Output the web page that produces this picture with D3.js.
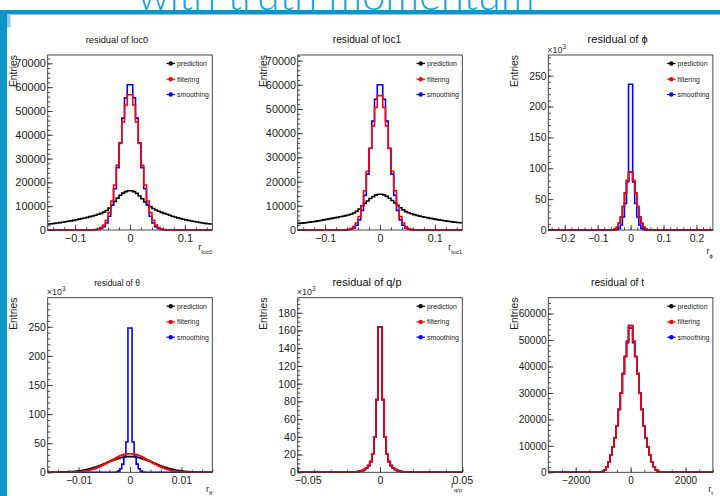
<!DOCTYPE html>
<html>
<head>
<meta charset="utf-8">
<script src="https://cdn.jsdelivr.net/npm/d3@7"></script>
<style>
  html, body { margin: 0; padding: 0; background: #fff; }
  svg { display: block; }
  text { font-family: "Liberation Sans", Arial, Helvetica, sans-serif; }
</style>
</head>
<body>
<svg id="chart" width="720" height="496"></svg>
<script>
// ---------------- histogram contents (entries per bin) ----------------
const seriesNames = ["prediction", "filtering", "smoothing"];

// residual of loc0 : 60 bins on [-0.15, 0.15]
const loc0Range = [-0.15, 0.15];
const loc0Prediction = [
  2500, 2650, 2800, 2950, 3100, 3250, 3450, 3650, 3850, 4050,
  4300, 4550, 4800, 5050, 5300, 5600, 5900, 6200, 6600, 7000,
  7500, 8200, 9200, 10400, 12000, 13400, 14600, 15500, 16100, 16500,
  16500, 16100, 15400, 14300, 13100, 11800, 10700, 9800, 9000, 8400,
  7900, 7400, 7000, 6600, 6200, 5800, 5450, 5100, 4800, 4500,
  4250, 4000, 3750, 3550, 3350, 3150, 2950, 2800, 2650, 2500];
const loc0Filtering = [
  0, 0, 0, 0, 0, 0, 0, 0, 0, 0,
  0, 0, 0, 0, 0, 0, 80, 200, 450, 1000,
  2100, 4100, 7300, 12200, 18900, 27200, 36400, 45400, 52500, 56800,
  56800, 52500, 45400, 36400, 27200, 18900, 12200, 7300, 4100, 2100,
  1000, 450, 200, 80, 0, 0, 0, 0, 0, 0,
  0, 0, 0, 0, 0, 0, 0, 0, 0, 0];
const loc0Smoothing = [
  0, 0, 0, 0, 0, 0, 0, 0, 0, 0,
  0, 0, 0, 0, 0, 0, 30, 90, 250, 600,
  1400, 3000, 5800, 10400, 17300, 26200, 36600, 47000, 55500, 61000,
  61000, 55500, 47000, 36600, 26200, 17300, 10400, 5800, 3000, 1400,
  600, 250, 90, 30, 0, 0, 0, 0, 0, 0,
  0, 0, 0, 0, 0, 0, 0, 0, 0, 0];

// residual of loc1 : 60 bins on [-0.15, 0.15]
const loc1Range = [-0.15, 0.15];
const loc1Prediction = [
  2750, 2850, 2950, 3100, 3250, 3400, 3550, 3750, 3950, 4200,
  4400, 4600, 4800, 5000, 5200, 5450, 5700, 5950, 6200, 6500,
  7000, 7700, 8700, 9900, 11000, 12000, 13000, 13800, 14400, 14800,
  14800, 14500, 13900, 13100, 12200, 11200, 10200, 9200, 8300, 7600,
  7100, 6700, 6350, 6050, 5750, 5500, 5250, 5000, 4800, 4600,
  4400, 4200, 4000, 3800, 3650, 3500, 3350, 3200, 3100, 3000];
const loc1Filtering = [
  0, 0, 0, 0, 0, 0, 0, 0, 0, 0,
  0, 0, 0, 0, 0, 0, 30, 90, 250, 620,
  1400, 2900, 5600, 9900, 16200, 24300, 33700, 43000, 50600, 55500,
  55500, 50600, 43000, 33700, 24300, 16200, 9900, 5600, 2900, 1400,
  620, 250, 90, 30, 0, 0, 0, 0, 0, 0,
  0, 0, 0, 0, 0, 0, 0, 0, 0, 0];
const loc1Smoothing = [
  0, 0, 0, 0, 0, 0, 0, 0, 0, 0,
  0, 0, 0, 0, 0, 0, 10, 35, 110, 320,
  820, 1950, 4200, 8100, 14300, 23100, 33800, 45000, 54000, 60000,
  60000, 54000, 45000, 33800, 23100, 14300, 8100, 4200, 1950, 820,
  320, 110, 35, 10, 0, 0, 0, 0, 0, 0,
  0, 0, 0, 0, 0, 0, 0, 0, 0, 0];

// residual of phi : 80 bins on [-0.25, 0.25]
const phiRange = [-0.25, 0.25];
const phiPrediction = [
  0, 0, 0, 0, 0, 0, 0, 0, 0, 0,
  0, 0, 0, 0, 0, 0, 0, 0, 0, 0,
  0, 0, 0, 0, 0, 0, 0, 0, 0, 0,
  100, 400, 1500, 4500, 11000, 21000, 38000, 60000, 80000, 94000,
  94000, 80000, 60000, 38000, 21000, 11000, 4500, 1500, 400, 100,
  0, 0, 0, 0, 0, 0, 0, 0, 0, 0,
  0, 0, 0, 0, 0, 0, 0, 0, 0, 0,
  0, 0, 0, 0, 0, 0, 0, 0, 0, 0];
const phiFiltering = [
  0, 0, 0, 0, 0, 0, 0, 0, 0, 0,
  0, 0, 0, 0, 0, 0, 0, 0, 0, 0,
  0, 0, 0, 0, 0, 0, 0, 0, 0, 0,
  100, 400, 1500, 4500, 11000, 21000, 38000, 60000, 80000, 94000,
  94000, 80000, 60000, 38000, 21000, 11000, 4500, 1500, 400, 100,
  0, 0, 0, 0, 0, 0, 0, 0, 0, 0,
  0, 0, 0, 0, 0, 0, 0, 0, 0, 0,
  0, 0, 0, 0, 0, 0, 0, 0, 0, 0];
const phiSmoothing = [
  0, 0, 0, 0, 0, 0, 0, 0, 0, 0,
  0, 0, 0, 0, 0, 0, 0, 0, 0, 0,
  0, 0, 0, 0, 0, 0, 0, 0, 0, 0,
  0, 30, 150, 700, 2500, 8000, 21000, 43000, 78000, 236000,
  236000, 78000, 43000, 21000, 8000, 2500, 700, 150, 30, 0,
  0, 0, 0, 0, 0, 0, 0, 0, 0, 0,
  0, 0, 0, 0, 0, 0, 0, 0, 0, 0,
  0, 0, 0, 0, 0, 0, 0, 0, 0, 0];

// residual of theta : 80 bins on [-0.016, 0.016]
const thetaRange = [-0.016, 0.016];
const thetaPrediction = [
  57, 77, 105, 140, 185, 245, 320, 415, 535, 685,
  870, 1090, 1360, 1690, 2070, 2520, 3040, 3650, 4340, 5130,
  6000, 6980, 8040, 9200, 10500, 11800, 13100, 14600, 16000, 17500,
  18900, 20300, 21600, 22900, 24000, 24900, 25700, 26300, 26800, 27000,
  27000, 26800, 26300, 25700, 24900, 24000, 22900, 21600, 20300, 18900,
  17500, 16000, 14600, 13100, 11800, 10500, 9200, 8040, 6980, 6000,
  5130, 4340, 3650, 3040, 2520, 2070, 1690, 1360, 1090, 870,
  685, 535, 415, 320, 245, 185, 140, 105, 77, 57];
const thetaFiltering = [
  0, 5, 10, 15, 25, 40, 60, 90, 130, 185,
  260, 350, 480, 650, 870, 1150, 1500, 1900, 2500, 3100,
  3900, 4800, 5900, 7100, 8500, 10000, 11700, 13500, 15400, 17400,
  19400, 21400, 23400, 25300, 27100, 28600, 29900, 30900, 31600, 32000,
  32000, 31600, 30900, 29900, 28600, 27100, 25300, 23400, 21400, 19400,
  17400, 15400, 13500, 11700, 10000, 8500, 7100, 5900, 4800, 3900,
  3100, 2500, 1900, 1500, 1150, 870, 650, 480, 350, 260,
  185, 130, 90, 60, 40, 25, 15, 10, 5, 0];
const thetaSmoothing = [
  0, 0, 0, 0, 0, 0, 0, 0, 0, 0,
  0, 0, 0, 0, 0, 0, 0, 0, 0, 0,
  0, 0, 0, 0, 0, 0, 0, 0, 0, 0,
  0, 0, 100, 500, 2000, 6000, 14000, 28000, 52000, 248000,
  248000, 52000, 28000, 14000, 6000, 2000, 500, 100, 0, 0,
  0, 0, 0, 0, 0, 0, 0, 0, 0, 0,
  0, 0, 0, 0, 0, 0, 0, 0, 0, 0,
  0, 0, 0, 0, 0, 0, 0, 0, 0, 0];

// residual of q/p : 80 bins on [-0.05, 0.05]
const qopRange = [-0.05, 0.05];
const qopPrediction = [
  0, 0, 0, 0, 0, 0, 0, 0, 0, 0,
  0, 0, 0, 0, 0, 0, 0, 0, 0, 0,
  0, 0, 0, 15, 40, 90, 180, 320, 550, 900,
  1400, 2100, 3200, 4800, 7500, 12000, 21000, 40000, 82000, 164000,
  164000, 82000, 40000, 21000, 12000, 7500, 4800, 3200, 2100, 1400,
  900, 550, 320, 180, 90, 40, 15, 0, 0, 0,
  0, 0, 0, 0, 0, 0, 0, 0, 0, 0,
  0, 0, 0, 0, 0, 0, 0, 0, 0, 0];
const qopFiltering = [
  0, 0, 0, 0, 0, 0, 0, 0, 0, 0,
  0, 0, 0, 0, 0, 0, 0, 0, 0, 0,
  0, 0, 0, 15, 40, 90, 180, 320, 550, 900,
  1400, 2100, 3200, 4800, 7500, 12000, 21000, 40000, 82000, 164000,
  164000, 82000, 40000, 21000, 12000, 7500, 4800, 3200, 2100, 1400,
  900, 550, 320, 180, 90, 40, 15, 0, 0, 0,
  0, 0, 0, 0, 0, 0, 0, 0, 0, 0,
  0, 0, 0, 0, 0, 0, 0, 0, 0, 0];
const qopSmoothing = [
  0, 0, 0, 0, 0, 0, 0, 0, 0, 0,
  0, 0, 0, 0, 0, 0, 0, 0, 0, 0,
  0, 0, 0, 15, 40, 90, 180, 320, 550, 900,
  1400, 2100, 3200, 4800, 7500, 12000, 21000, 40000, 82000, 164000,
  164000, 82000, 40000, 21000, 12000, 7500, 4800, 3200, 2100, 1400,
  900, 550, 320, 180, 90, 40, 15, 0, 0, 0,
  0, 0, 0, 0, 0, 0, 0, 0, 0, 0,
  0, 0, 0, 0, 0, 0, 0, 0, 0, 0];

// residual of t : 80 bins on [-3000, 3000]
const tRange = [-3000, 3000];
const tPrediction = [
  0, 0, 0, 0, 0, 0, 0, 0, 0, 0,
  0, 0, 0, 0, 0, 0, 0, 0, 0, 0,
  0, 0, 0, 0, 20, 80, 300, 900, 2100, 4000,
  6500, 9600, 13000, 17600, 23800, 30000, 37300, 43800, 49500, 55500,
  55500, 49500, 43800, 37300, 30000, 23800, 17600, 13000, 9600, 6500,
  4000, 2100, 900, 300, 80, 20, 0, 0, 0, 0,
  0, 0, 0, 0, 0, 0, 0, 0, 0, 0,
  0, 0, 0, 0, 0, 0, 0, 0, 0, 0];
const tFiltering = [
  0, 0, 0, 0, 0, 0, 0, 0, 0, 0,
  0, 0, 0, 0, 0, 0, 0, 0, 0, 0,
  0, 0, 0, 0, 20, 80, 300, 900, 2100, 4000,
  6500, 9600, 13000, 17600, 23800, 30000, 37300, 43800, 49500, 55500,
  55500, 49500, 43800, 37300, 30000, 23800, 17600, 13000, 9600, 6500,
  4000, 2100, 900, 300, 80, 20, 0, 0, 0, 0,
  0, 0, 0, 0, 0, 0, 0, 0, 0, 0,
  0, 0, 0, 0, 0, 0, 0, 0, 0, 0];
const tSmoothing = [
  0, 0, 0, 0, 0, 0, 0, 0, 0, 0,
  0, 0, 0, 0, 0, 0, 0, 0, 0, 0,
  0, 0, 0, 0, 20, 80, 300, 900, 2100, 4000,
  6500, 9600, 13000, 17600, 23800, 30000, 37300, 43800, 49000, 54500,
  54500, 49000, 43800, 37300, 30000, 23800, 17600, 13000, 9600, 6500,
  4000, 2100, 900, 300, 80, 20, 0, 0, 0, 0,
  0, 0, 0, 0, 0, 0, 0, 0, 0, 0,
  0, 0, 0, 0, 0, 0, 0, 0, 0, 0];

// axis ticks
const locXTicks = [-0.1, 0, 0.1];
const phiXTicks = [-0.2, -0.1, 0, 0.1, 0.2];
const thetaXTicks = [-0.01, 0, 0.01];
const qopXTicks = [-0.05, 0, 0.05];
const tXTicks = [-2000, 0, 2000];
const locYTicks = [0, 10000, 20000, 30000, 40000, 50000, 60000, 70000];
const angleYTicks = [0, 50000, 100000, 150000, 200000, 250000];
const qopYTicks = [0, 20000, 40000, 60000, 80000, 100000, 120000, 140000, 160000, 180000];
const tYTicks = [0, 10000, 20000, 30000, 40000, 50000, 60000];

// ---------------- panel layout ----------------
const colors = ["#000000", "#ff0000", "#0000ff"];
const drawOrder = [0, 2, 1];          // prediction, smoothing, then filtering on top
const plain = d3.format("d");
const kilo = v => d3.format("d")(v / 1000);

const panels = [
  { title: "residual of loc0", titleSize: 9.3, sub: "loc0", fx: 47.7, fy: 55, fw: 164.6, fh: 175,
    range: loc0Range, data: [loc0Prediction, loc0Filtering, loc0Smoothing], yMax: 73500,
    xTicks: locXTicks, xMinor: 0.02, yTicks: locYTicks, yMinor: 2000, yFmt: plain, exp: false, fs: 11, xtDy: 20, edgeShift: 0 },
  { title: "residual of loc1", titleSize: 10.2, sub: "loc1", fx: 297.7, fy: 55, fw: 164.6, fh: 175,
    range: loc1Range, data: [loc1Prediction, loc1Filtering, loc1Smoothing], yMax: 72300,
    xTicks: locXTicks, xMinor: 0.02, yTicks: locYTicks, yMinor: 2000, yFmt: plain, exp: false, fs: 10.8, xtDy: 20, edgeShift: 0 },
  { title: "residual of \u03d5", titleSize: 11, sub: "\u03d5", fx: 548.3, fy: 55, fw: 164.6, fh: 175,
    range: phiRange, data: [phiPrediction, phiFiltering, phiSmoothing], yMax: 283500,
    xTicks: phiXTicks, xMinor: 0.02, yTicks: angleYTicks, yMinor: 10000, yFmt: kilo, exp: true, fs: 10.4, xtDy: 24, edgeShift: 0 },
  { title: "residual of \u03b8", titleSize: 8.4, sub: "\u03b8", fx: 47.7, fy: 297.7, fw: 164.6, fh: 174.6,
    range: thetaRange, data: [thetaPrediction, thetaFiltering, thetaSmoothing], yMax: 300000,
    xTicks: thetaXTicks, xMinor: 0.002, yTicks: angleYTicks, yMinor: 10000, yFmt: kilo, exp: true, fs: 10.4, xtDy: 19.5, edgeShift: 0 },
  { title: "residual of q/p", titleSize: 11, sub: "q/p", fx: 297.7, fy: 297.7, fw: 164.6, fh: 174.6,
    range: qopRange, data: [qopPrediction, qopFiltering, qopSmoothing], yMax: 197000,
    xTicks: qopXTicks, xMinor: 0.01, yTicks: qopYTicks, yMinor: 5000, yFmt: kilo, exp: true, fs: 10.6, xtDy: 16, edgeShift: 10 },
  { title: "residual of t", titleSize: 10.3, sub: "t", fx: 548.3, fy: 297.7, fw: 164.6, fh: 174.6,
    range: tRange, data: [tPrediction, tFiltering, tSmoothing], yMax: 66000,
    xTicks: tXTicks, xMinor: 500, yTicks: tYTicks, yMinor: 2000, yFmt: plain, exp: false, fs: 10, xtDy: 19.5, edgeShift: 0 }
];

const svg = d3.select("#chart");

// ---------------- slide header ----------------
const blue = "#0b96c8";
const head = svg.append("text")
  .attr("x", 336).attr("y", 9.5)
  .attr("text-anchor", "middle")
  .style("font-family", "Lato, 'Open Sans', sans-serif")
  .style("font-weight", 300)
  .style("font-size", "42px")
  .attr("fill", "#1c9fd6")
  .text("with truth momentum");
const headLen = head.node().getComputedTextLength();
if (headLen > 0) head.style("font-size", (42 * 397 / headLen) + "px");

svg.append("rect").attr("x", 0).attr("y", 10).attr("width", 720).attr("height", 4.5).attr("fill", blue);
svg.append("rect").attr("x", 0).attr("y", 10).attr("width", 7).attr("height", 486).attr("fill", blue);
svg.append("rect").attr("x", 7).attr("y", 14.5).attr("width", 3.5).attr("height", 13).attr("fill", "#8fcbe5");

// ---------------- panels ----------------
panels.forEach((p, k) => {
  const g = svg.append("g");
  const x = d3.scaleLinear().domain(p.range).range([p.fx, p.fx + p.fw]);
  const y = d3.scaleLinear().domain([0, p.yMax]).range([p.fy + p.fh, p.fy]);
  const bottom = p.fy + p.fh;
  const right = p.fx + p.fw;

  const clipId = "clip" + k;
  svg.append("clipPath").attr("id", clipId)
    .append("rect").attr("x", p.fx).attr("y", p.fy)
    .attr("width", p.fw).attr("height", p.fh + 1.2);

  // histograms as step outlines
  const line = d3.line().x(d => x(d[0])).y(d => y(d[1])).curve(d3.curveStepAfter);
  drawOrder.forEach(si => {
    const vals = p.data[si];
    const n = vals.length;
    const bw = (p.range[1] - p.range[0]) / n;
    const pts = vals.map((v, i) => [p.range[0] + i * bw, v]);
    pts.push([p.range[1], vals[n - 1]]);
    g.append("path")
      .attr("clip-path", `url(#${clipId})`)
      .attr("d", line(pts))
      .attr("fill", "none")
      .attr("stroke", colors[si])
      .attr("stroke-width", 1.6)
      .attr("stroke-linejoin", "miter");
  });

  // frame
  g.append("rect").attr("x", p.fx).attr("y", p.fy).attr("width", p.fw).attr("height", p.fh)
    .attr("fill", "none").attr("stroke", "#333").attr("stroke-width", 0.9);

  // y axis (ticks pointing into the frame)
  const yMinors = d3.range(0, p.yMax, p.yMinor);
  const yMin = g.append("g").attr("transform", `translate(${p.fx},0)`)
    .call(d3.axisLeft(y).tickValues(yMinors).tickSize(-2.6).tickFormat(""));
  const yMaj = g.append("g").attr("transform", `translate(${p.fx},0)`)
    .call(d3.axisLeft(y).tickValues(p.yTicks).tickSize(-5.2).tickPadding(1.8).tickFormat(p.yFmt));
  yMaj.selectAll("text").style("font-size", p.fs + "px").attr("fill", "#1a1a1a");

  // x axis
  const xMinors = d3.range(Math.ceil(p.range[0] / p.xMinor), Math.floor(p.range[1] / p.xMinor) + 1)
    .map(i => i * p.xMinor);
  const xMin = g.append("g").attr("transform", `translate(0,${bottom})`)
    .call(d3.axisBottom(x).tickValues(xMinors).tickSize(-2.6).tickFormat(""));
  const xMaj = g.append("g").attr("transform", `translate(0,${bottom})`)
    .call(d3.axisBottom(x).tickValues(p.xTicks).tickSize(-5.2).tickPadding(4.5).tickFormat(d3.format("~g")));
  xMaj.selectAll("text").style("font-size", p.fs + "px").attr("fill", "#1a1a1a")
    .attr("x", d => (d === p.range[0] ? p.edgeShift : 0));

  [yMin, yMaj, xMin, xMaj].forEach(a => {
    a.select(".domain").remove();
    a.selectAll("line").attr("stroke", "#333").attr("stroke-width", 0.9);
  });

  // exponent label on the y axis
  if (p.exp) {
    const e = g.append("text").attr("x", p.fx - 1).attr("y", p.fy - 2.5)
      .style("font-size", "9px").attr("fill", "#333");
    e.append("tspan").text("\u00d710");
    e.append("tspan").attr("dy", -4).style("font-size", "6.5px").text("3");
  }

  // pad title
  g.append("text")
    .attr("x", p.fx + p.fw / 2 - 13).attr("y", p.fy - 12)
    .attr("text-anchor", "middle")
    .style("font-size", p.titleSize + "px")
    .attr("fill", "#111")
    .text(p.title);

  // y title
  g.append("text")
    .attr("transform", `translate(${p.fx - 30.5},${p.fy}) rotate(-90)`)
    .attr("text-anchor", "end")
    .style("font-size", "10.3px")
    .attr("fill", "#222")
    .text("Entries");

  // x title: r with subscript
  const xt = g.append("text")
    .attr("x", right).attr("y", bottom + p.xtDy)
    .attr("text-anchor", "end")
    .attr("fill", "#222")
    .style("font-size", "9px");
  xt.append("tspan").text("r");
  xt.append("tspan").attr("dy", 3.5).style("font-size", "6px").text(p.sub);

  // legend
  const rows = [8.5, 24.2, 39.5];
  seriesNames.forEach((name, i) => {
    const ly = p.fy + rows[i];
    g.append("line")
      .attr("x1", right - 45.8).attr("x2", right - 37.3)
      .attr("y1", ly).attr("y2", ly)
      .attr("stroke", colors[i]).attr("stroke-width", 1.2);
    g.append("circle")
      .attr("cx", right - 41.6).attr("cy", ly).attr("r", 2.2)
      .attr("fill", colors[i]);
    g.append("text")
      .attr("x", right - 35.3).attr("y", ly + 2.4)
      .style("font-size", "6.9px")
      .attr("fill", "#222")
      .text(name);
  });
});
</script>
</body>
</html>
